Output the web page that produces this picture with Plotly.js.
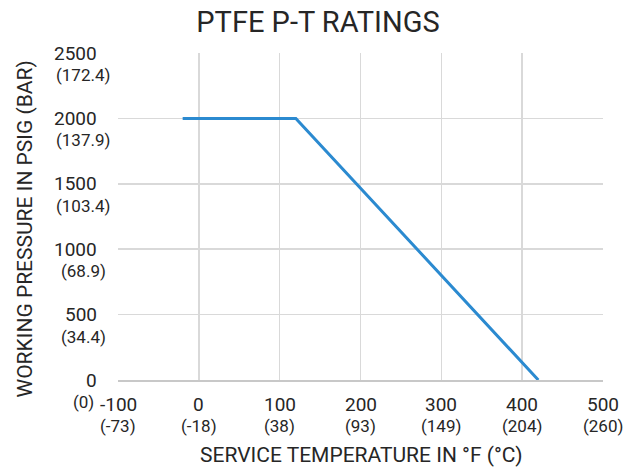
<!DOCTYPE html>
<html>
<head>
<meta charset="utf-8">
<script src="https://cdn.plot.ly/plotly-3.0.1.min.js"></script>
<style>html,body{margin:0;padding:0;background:#fff;}#chart{width:636px;height:474px;}</style>
</head>
<body>
<div id="chart"></div>
<script>
// Data
const tempF = [-20, 120, 420];
const pressurePsig = [2000, 2000, 0];

const xTickVals = [-100, 0, 100, 200, 300, 400, 500];
const xTickCelsius = ['(-73)', '(-18)', '(38)', '(93)', '(149)', '(204)', '(260)'];
const yTickVals = [0, 500, 1000, 1500, 2000, 2500];
const yTickBar = ['(0)', '(34.4)', '(68.9)', '(103.4)', '(137.9)', '(172.4)'];

const titleText = 'PTFE P-T RATINGS';
const xTitle = 'SERVICE TEMPERATURE IN °F (°C)';
const yTitle = 'WORKING PRESSURE IN PSIG (BAR)';

const FONT = 'Roboto, "Open Sans", sans-serif';
const TXT = '#262626';

const annotations = [];
xTickVals.forEach((v, i) => {
  annotations.push({xref: 'x', yref: 'paper', x: v, y: 0, yshift: -24, xanchor: 'center', yanchor: 'middle',
    text: String(v), showarrow: false, font: {family: FONT, size: 19, color: TXT}});
  annotations.push({xref: 'x', yref: 'paper', x: v, y: 0, yshift: -46, xanchor: 'center', yanchor: 'middle',
    text: xTickCelsius[i], showarrow: false, font: {family: FONT, size: 17, color: TXT}});
});
yTickVals.forEach((v, i) => {
  annotations.push({xref: 'paper', yref: 'y', x: 0, y: v, xshift: -19, xanchor: 'right', yanchor: 'middle',
    text: String(v), showarrow: false, font: {family: FONT, size: 19, color: TXT}});
  annotations.push({xref: 'paper', yref: 'y', x: 0, y: v, xshift: -35, yshift: -22, xanchor: 'center', yanchor: 'middle',
    text: yTickBar[i], showarrow: false, font: {family: FONT, size: 17, color: TXT}});
});
annotations.push({xref: 'paper', yref: 'paper', x: 0.5, y: 0, yshift: -75, xanchor: 'center', yanchor: 'middle',
  text: xTitle, showarrow: false, font: {family: FONT, size: 21, color: TXT}});
annotations.push({xref: 'paper', yref: 'paper', x: 0, y: 0.5, xshift: -94, yshift: -13, xanchor: 'center', yanchor: 'middle',
  textangle: -90, text: yTitle, showarrow: false, font: {family: FONT, size: 21, color: TXT}});

const trace = {
  x: tempF, y: pressurePsig, type: 'scatter', mode: 'lines',
  line: {color: '#2b8ad0', width: 3}, hoverinfo: 'skip'
};

const layout = {
  width: 636, height: 474,
  margin: {l: 118, r: 33, t: 53, b: 94},
  paper_bgcolor: '#ffffff', plot_bgcolor: '#ffffff',
  showlegend: false,
  title: {text: titleText, x: 0.5, xref: 'container', xanchor: 'center', y: 0.953, yref: 'container', yanchor: 'middle',
    font: {family: FONT, size: 29, color: TXT}},
  xaxis: {range: [-100, 500], tickvals: xTickVals, showticklabels: false, ticks: '',
    showgrid: true, gridcolor: '#d9d9d9', gridwidth: 1.5, zeroline: false,
    showline: true, linecolor: '#c8c8c8', linewidth: 1.5, mirror: false},
  yaxis: {range: [0, 2500], tickvals: yTickVals, showticklabels: false, ticks: '',
    showgrid: true, gridcolor: '#d9d9d9', gridwidth: 1.5, zeroline: false, showline: false},
  annotations: annotations
};

Plotly.newPlot('chart', [trace], layout, {staticPlot: true, displayModeBar: false});
</script>
</body>
</html>
